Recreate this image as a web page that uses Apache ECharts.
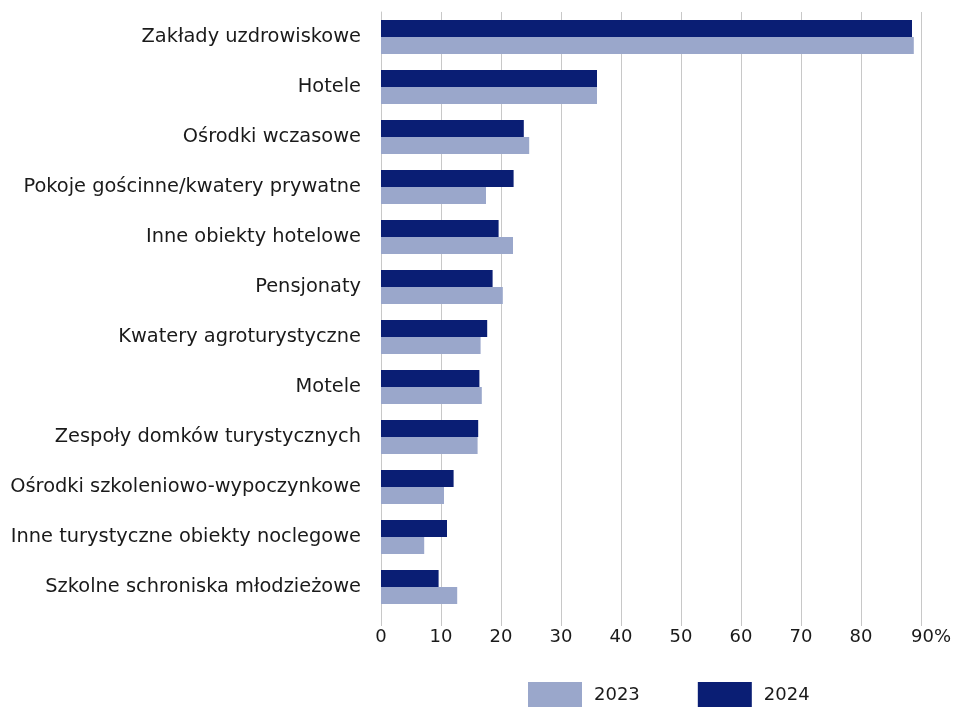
<!DOCTYPE html>
<html>
<head>
<meta charset="utf-8">
<script src="https://cdn.jsdelivr.net/npm/echarts@6/dist/echarts.min.js"></script>
<style>
  html, body { margin: 0; padding: 0; background: #fff; }
  #chart { width: 954px; height: 707px; }
</style>
</head>
<body>
<div id="chart"></div>
<script>
var categories = [
    'Zakłady uzdrowiskowe',
    'Hotele',
    'Ośrodki wczasowe',
    'Pokoje gościnne/kwatery prywatne',
    'Inne obiekty hotelowe',
    'Pensjonaty',
    'Kwatery agroturystyczne',
    'Motele',
    'Zespoły domków turystycznych',
    'Ośrodki szkoleniowo-wypoczynkowe',
    'Inne turystyczne obiekty noclegowe',
    'Szkolne schroniska młodzieżowe'
];
var values2024 = [88.5, 36.0, 23.8, 22.1, 19.6, 18.6, 17.7, 16.4, 16.2, 12.1, 11.0, 9.6];
var values2023 = [88.8, 36.0, 24.7, 17.5, 22.0, 20.3, 16.6, 16.8, 16.1, 10.5, 7.2, 12.7];
var xTicks = [0, 10, 20, 30, 40, 50, 60, 70, 80, 90];

var chart = echarts.init(document.getElementById('chart'));

var option = {
    backgroundColor: '#fff',
    textStyle: { fontFamily: 'DejaVu Sans' },
    grid: { left: 381, right: 33, top: 12, bottom: 95, containLabel: false },
    legend: {
        data: ['2023', '2024'],
        top: 682,
        left: 528,
        padding: 0,
        itemWidth: 54,
        itemHeight: 26,
        itemGap: 58,
        icon: 'rect',
        textStyle: { fontSize: 18, color: '#1a1a1a', padding: [0, 0, 0, 7] }
    },
    xAxis: {
        type: 'value',
        min: 0,
        max: 90,
        interval: 10,
        axisLine: { show: false },
        axisTick: { show: true, length: 14, lineStyle: { color: '#c8c8c8' } },
        splitLine: { show: true, lineStyle: { color: '#c8c8c8', width: 1 } },
        axisLabel: {
            fontSize: 18,
            color: '#1a1a1a',
            margin: 16,
            formatter: function (v) {
                return v === xTicks[xTicks.length - 1] ? '{last|' + v + '%}' : String(v);
            },
            rich: {
                last: { fontSize: 18, color: '#1a1a1a', padding: [0, 0, 0, 20] }
            }
        }
    },
    yAxis: {
        type: 'category',
        data: categories,
        inverse: true,
        axisLine: { show: true, lineStyle: { color: '#c8c8c8' } },
        axisTick: { show: false },
        axisLabel: { fontSize: 19.4, color: '#1a1a1a', margin: 20 }
    },
    series: [
        {
            name: '2024',
            type: 'bar',
            data: values2024,
            barWidth: 17,
            barGap: '0%',
            itemStyle: { color: '#0a1e74' }
        },
        {
            name: '2023',
            type: 'bar',
            data: values2023,
            barWidth: 17,
            barGap: '0%',
            itemStyle: { color: '#9aa7cb' }
        }
    ]
};

chart.setOption(option, true);
</script>
</body>
</html>
